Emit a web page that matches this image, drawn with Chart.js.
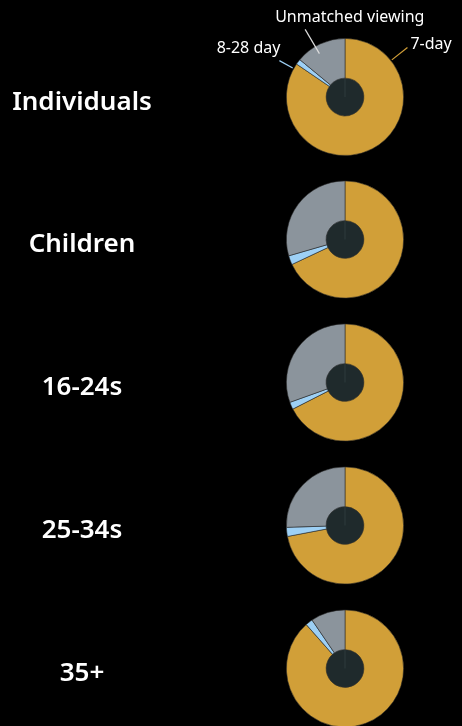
<!DOCTYPE html>
<html>
<head>
<meta charset="utf-8">
<script src="https://cdn.jsdelivr.net/npm/chart.js@4.4.1/dist/chart.umd.min.js"></script>
<style>
  html, body { margin: 0; padding: 0; background: #000; }
  body { width: 462px; height: 726px; position: relative; overflow: hidden; }
  .fila { position: absolute; left: 0; width: 462px; }
  .etiqueta {
    position: absolute; left: 0; width: 164px; text-align: center;
    color: #fff; font-family: "Noto Sans", sans-serif; font-weight: 600; font-size: 26px;
  }
  canvas { position: absolute; left: 0; top: 0; }
</style>
</head>
<body>
<script>
// Datos de los grupos
const grupos = ['Individuals', 'Children', '16-24s', '25-34s', '35+'];
const categorias = ['7-day', '8-28 day', 'Unmatched viewing'];
const sieteDias = [84.5, 68, 67.5, 72, 88.5];
const ochoVeintiocho = [1.5, 2.5, 2, 2.5, 2];
const sinEmparejar = [14, 29.5, 30.5, 25.5, 9.5];

const colores = ['#D19F38', '#9DD0F5', '#8B949C'];
const colorCentro = '#1F2A2C';
const centrosY = [97, 239, 382, 525, 668];
const radio = 59;

// Etiquetas con guias solo para el primer grafico
const guias = [
  { idx: 0, ang: 51.6, r0: 1.02, r1: 1.36, color: '#D19F38', align: 'left', dx: 3, dy: 2 },
  { idx: 1, ang: 299, r0: 1.02, r1: 1.28, color: '#9DD0F5', align: 'right', dx: 1, dy: -8 },
  { idx: 2, ang: 329.5, r0: 0.86, r1: 1.34, color: '#DDDDDD', align: 'left', dx: -30, dy: -7 }
];

const pluginGuias = {
  id: 'guias',
  afterDraw(chart) {
    if (!chart.options.plugins.guias.mostrar) return;
    const arco = chart.getDatasetMeta(0).data[0];
    const cx = arco.x, cy = arco.y, R = arco.outerRadius;
    const ctx = chart.ctx;
    ctx.save();
    ctx.font = '16px "Noto Sans", sans-serif';
    ctx.textBaseline = 'alphabetic';
    guias.forEach(g => {
      const a = g.ang * Math.PI / 180;
      const x0 = cx + Math.sin(a) * R * g.r0, y0 = cy - Math.cos(a) * R * g.r0;
      const x1 = cx + Math.sin(a) * R * g.r1, y1 = cy - Math.cos(a) * R * g.r1;
      ctx.strokeStyle = g.color;
      ctx.lineWidth = 1.2;
      ctx.beginPath();
      ctx.moveTo(x0, y0);
      ctx.lineTo(x1, y1);
      ctx.stroke();
      ctx.fillStyle = '#FFFFFF';
      ctx.textAlign = g.align;
      ctx.fillText(categorias[g.idx], x1 + g.dx, y1 + g.dy);
    });
    ctx.restore();
  }
};

grupos.forEach((nombre, i) => {
  const primero = i === 0;
  const alto = primero ? 169 : 143;
  const arriba = primero ? 0 : centrosY[i] - 71.5;
  const padTop = centrosY[i] - arriba - radio;

  const fila = document.createElement('div');
  fila.className = 'fila';
  fila.style.top = arriba + 'px';
  fila.style.height = alto + 'px';

  const canvas = document.createElement('canvas');
  canvas.width = 462;
  canvas.height = alto;
  fila.appendChild(canvas);

  const etiqueta = document.createElement('div');
  etiqueta.className = 'etiqueta';
  etiqueta.textContent = nombre;
  etiqueta.style.top = (centrosY[i] - arriba - 15) + 'px';
  fila.appendChild(etiqueta);

  document.body.appendChild(fila);

  new Chart(canvas.getContext('2d'), {
    type: 'doughnut',
    data: {
      labels: categorias,
      datasets: [
        {
          data: [sieteDias[i], ochoVeintiocho[i], sinEmparejar[i]],
          backgroundColor: colores,
          borderColor: 'rgba(40,40,40,0.7)',
          borderWidth: 0.8,
          weight: 40
        },
        {
          data: [1],
          backgroundColor: [colorCentro],
          borderColor: '#2C393B',
          borderWidth: 0.8,
          weight: 19
        }
      ]
    },
    options: {
      responsive: false,
      animation: false,
      events: [],
      cutout: 0,
      layout: { padding: { left: 286, right: 58, top: padTop, bottom: alto - padTop - 2 * radio } },
      plugins: {
        legend: { display: false },
        tooltip: { enabled: false },
        guias: { mostrar: primero }
      }
    },
    plugins: [pluginGuias]
  });
});
</script>
</body>
</html>
